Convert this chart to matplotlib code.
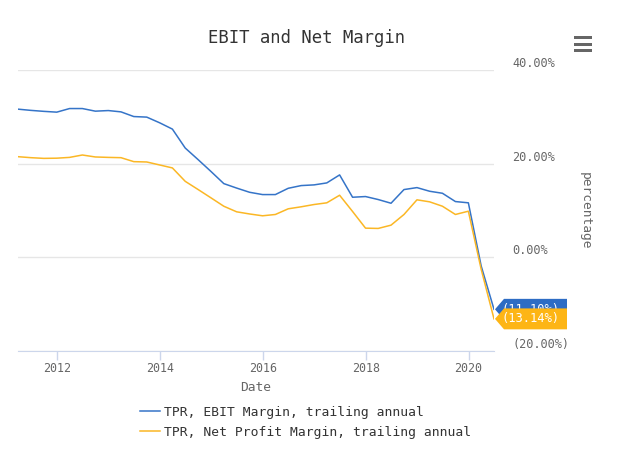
import numpy as np
import pandas as pd
import matplotlib
matplotlib.use("Agg")
import matplotlib.pyplot as plt
import matplotlib.ticker as mticker
from matplotlib.patches import Polygon, Rectangle
import matplotlib.transforms as mtrans

plt.rcParams['font.family'] = ['DejaVu Sans Mono', 'DejaVu Sans']

# quarterly dates, trailing annual margins (%)
dates = pd.date_range('2011-03-31', '2020-06-30', freq='QE')
ebit = [31.64, 31.38, 31.17, 31.0, 31.77, 31.77, 31.21, 31.34, 31.06, 30.06,
        29.94, 28.72, 27.38, 23.34, 20.85, 18.3, 15.74, 14.79, 13.89, 13.4,
        13.4, 14.74, 15.32, 15.47, 15.89, 17.6, 12.83, 12.98, 12.34, 11.55,
        14.47, 14.89, 14.11, 13.68, 11.91, 11.64, -1.85, -11.10]
net = [21.49, 21.28, 21.13, 21.17, 21.34, 21.85, 21.43, 21.34, 21.28, 20.43,
       20.36, 19.72, 19.09, 16.23, 14.47, 12.68, 10.91, 9.72, 9.26, 8.87,
       9.15, 10.36, 10.79, 11.28, 11.64, 13.26, 9.79, 6.23, 6.17, 6.87,
       9.15, 12.28, 11.85, 10.91, 9.15, 9.85, -2.55, -13.14]
names = ['TPR, EBIT Margin, trailing annual', 'TPR, Net Profit Margin, trailing annual']
yticks = [-20, 0, 20, 40]

blue = '#3574c8'
yellow = '#fbb725'
blue_box = '#2d6cc4'
yellow_box = '#fdb515'

W, H = 631, 449
fig = plt.figure(figsize=(W/100, H/100), dpi=100)
ax = fig.add_axes([18/W, 1-351/H, (494-18)/W, (351-70)/H])

ax.plot(dates, ebit, color=blue, lw=1.1, label=names[0])
ax.plot(dates, net, color=yellow, lw=1.1, label=names[1])

ax.set_xlim(dates[0], dates[-1])
ax.set_ylim(-20, 40)
ax.set_yticks(yticks)


def pct(v, pos):
    if v < 0:
        return '(%.2f%%)' % (-v)
    return '%.2f%%' % v


ax.yaxis.set_major_formatter(mticker.FuncFormatter(pct))
ax.yaxis.tick_right()
ax.tick_params(axis='y', length=0, pad=13, labelsize=8.6, colors='#666666')
for lbl in ax.get_yticklabels():
    lbl.set_verticalalignment('bottom')
ax.grid(axis='y', color='#e6e6e6', lw=1)
ax.set_axisbelow(True)

years = pd.to_datetime(['2012-01-01', '2014-01-01', '2016-01-01', '2018-01-01', '2020-01-01'])
ax.set_xticks(years)
ax.set_xticklabels([str(d.year) for d in years])
ax.tick_params(axis='x', length=6.5, width=1, color='#ccd6eb', pad=1.5,
               labelsize=8.4, labelcolor='#666666')

for s in ['top', 'left', 'right']:
    ax.spines[s].set_visible(False)
ax.spines['bottom'].set_color('#ccd6eb')

ax.set_xlabel('Date', fontsize=9.3, color='#666666', labelpad=4.5)
fig.text(585/W, 1-211/H, 'percentage', rotation=270, ha='center', va='center',
         fontsize=9.3, color='#666666')

fig.text(307/W, 1-38/H, 'EBIT and Net Margin', ha='center', va='center',
         fontsize=12.4, color='#333333')

# end-value callouts (yellow drawn over blue)
tr = mtrans.blended_transform_factory(fig.transFigure, ax.transData)
px = 20/94.0
z = 5
for val, col in [(ebit[-1], blue_box), (net[-1], yellow_box)]:
    x0, x1 = 495/W, 567/W
    dx = 9/W
    hh = 10.5*px
    pts = [(x0, val), (x0+dx, val+hh), (x1, val+hh), (x1, val-hh), (x0+dx, val-hh)]
    ax.add_patch(Polygon(pts, closed=True, facecolor=col, edgecolor='none',
                         transform=tr, clip_on=False, zorder=z))
    ax.text(531/W, val, pct(val, None), transform=tr, ha='center', va='center',
            fontsize=8.7, color='white', zorder=z+1, clip_on=False)
    z += 2

# menu icon
for yy in [37.5, 44, 50.5]:
    fig.add_artist(Rectangle((574/W, 1-(yy+1.5)/H), 18/W, 3/H,
                             transform=fig.transFigure, facecolor='#666666',
                             edgecolor='none'))

fig.legend(loc='upper left', bbox_to_anchor=(140/W, 1-406/H), frameon=False,
           fontsize=9.4, handlelength=1.5, handletextpad=0.3, labelspacing=0.52,
           borderaxespad=0, borderpad=0, labelcolor='#333333')

fig.savefig('out.png', dpi=100)
